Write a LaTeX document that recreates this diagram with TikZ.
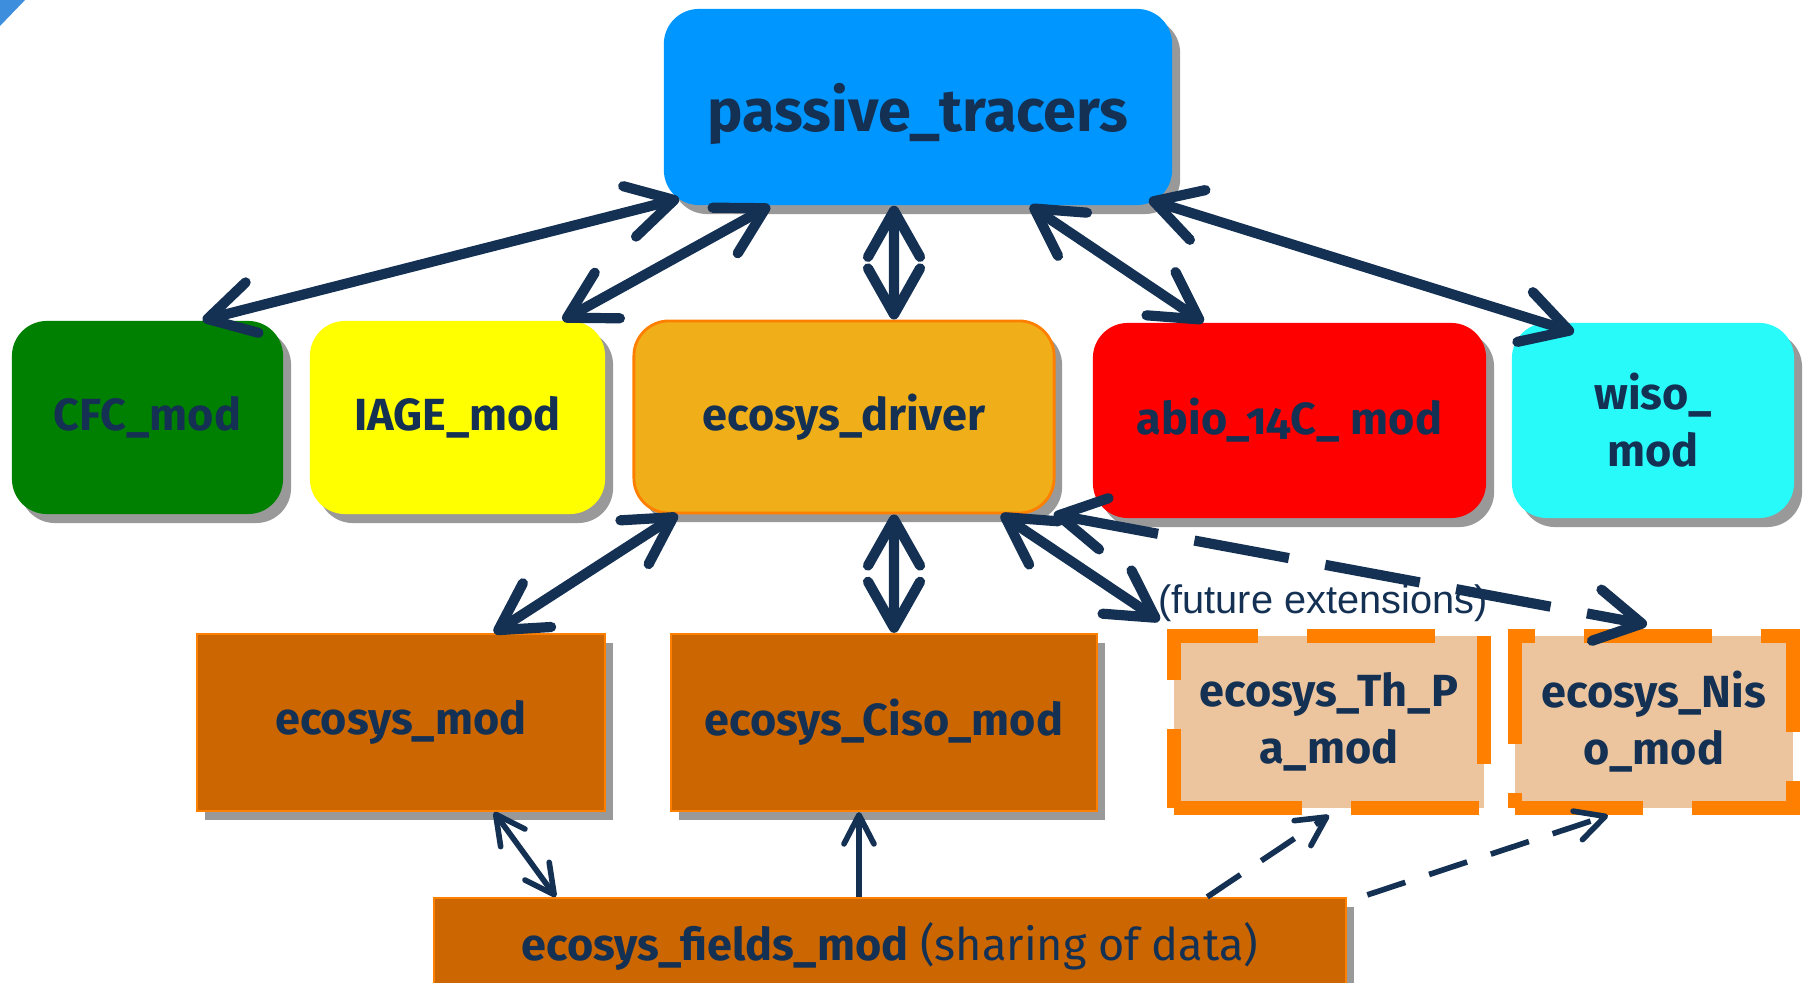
\documentclass[tikz,border=0pt]{standalone}
\usepackage{fontspec}
\setmainfont{Fira Sans}[Numbers=OldStyle]
\newfontfamily\notefont{Liberation Sans}
\usetikzlibrary{arrows.meta, shadows}

\definecolor{navy}{RGB}{20,49,84}
\definecolor{tracerblue}{RGB}{0,150,255}
\definecolor{cfcgreen}{RGB}{0,128,0}
\definecolor{iageyellow}{RGB}{255,255,0}
\definecolor{drivergold}{RGB}{240,174,25}
\definecolor{abiored}{RGB}{255,0,0}
\definecolor{wisocyan}{RGB}{40,250,250}
\definecolor{ecobrown}{RGB}{204,102,0}
\definecolor{edgeorange}{RGB}{255,128,0}
\definecolor{futurepeach}{RGB}{236,197,158}
\definecolor{cornerblue}{RGB}{62,142,222}

\begin{document}
\begin{tikzpicture}[
    x=0.01cm, y=-0.01cm,
    module/.style={rectangle, rounded corners=3.5mm, inner sep=0pt, text=navy, align=center,
        font=\bfseries\fontsize{12.8}{16.2}\selectfont,
        drop shadow={shadow xshift=0.8mm, shadow yshift=-0.9mm, fill=black, opacity=0.4}},
    ecobox/.style={rectangle, draw=edgeorange, line width=0.6pt, fill=ecobrown, inner sep=0pt, text=navy, align=center,
        font=\bfseries\fontsize{12.8}{16.2}\selectfont,
        drop shadow={shadow xshift=0.8mm, shadow yshift=-0.9mm, fill=black, opacity=0.4}},
    future/.style={rectangle, draw=edgeorange, fill=futurepeach, line width=4.2pt, dash pattern=on 12.8mm off 4.9mm,
        inner sep=0pt, text=navy, align=center, font=\bfseries\fontsize{12.8}{16.2}\selectfont},
    link/.style={<->, >={Straight Barb[round, length=4.6mm, width=5.2mm]}, line width=2.9pt, navy},
    feed/.style={>={Straight Barb[round, length=2.9mm, width=3mm]}, line width=1.6pt, navy},
    note/.style={font=\notefont\fontsize{11.3}{13}\selectfont, text=navy, inner sep=0pt}
]

\useasboundingbox (0,0) rectangle (1808,983);
\fill[cornerblue] (0,0) -- (25,0) -- (0,26) -- cycle;

% top
\node[module, fill=tracerblue, minimum width=5.08cm, minimum height=1.96cm, text depth=0pt, font=\bfseries\fontsize{16.9}{20}\selectfont] (passive) at (918,107) {passive\_tracers};

% tracer modules
\node[module, fill=cfcgreen, minimum width=2.71cm, minimum height=1.93cm] (cfc) at (147.5,417.5) {CFC\_mod};
\node[module, fill=iageyellow, minimum width=2.95cm, minimum height=1.93cm] (iage) at (457.5,417.5) {IAGE\_mod};
\node[module, fill=drivergold, draw=edgeorange, line width=0.8pt, minimum width=4.2cm, minimum height=1.92cm] (driver) at (844,417) {ecosys\_driver};
\node[module, fill=abiored, minimum width=3.93cm, minimum height=1.95cm] (abio) at (1289.5,420.5) {abio\_14C\_ mod};
\node[module, fill=wisocyan, minimum width=2.82cm, minimum height=1.95cm] (wiso) at (1653,420.5) {wiso\_\\mod};

% ecosys modules
\node[ecobox, minimum width=4.08cm, minimum height=1.77cm] (ecomod) at (401,722.5) {ecosys\_mod};
\node[ecobox, minimum width=4.26cm, minimum height=1.77cm] (ciso) at (884,722.5) {ecosys\_Ciso\_mod};
\node[future, minimum width=3.10cm, minimum height=1.72cm] (thpa) at (1329,722) {ecosys\_Th\_P\\a\_mod};
\node[future, minimum width=2.78cm, minimum height=1.72cm] (niso) at (1654,722) {ecosys\_Nis\\o\_mod};
\node[note] (futurenote) at (1323,603) {(future extensions)};

\node[ecobox, minimum width=9.12cm, minimum height=0.96cm, font=\fontsize{12.8}{16}\selectfont] (fields) at (890,946) {\textbf{ecosys\_fields\_mod} (sharing of data)};

% connectors
\draw[link] ([xshift=1.6mm,yshift=0.7mm]passive.south west) -- ([xshift=5.5mm]cfc.north);
\draw[link] ([xshift=-14.8mm]passive.south) -- ([xshift=10.5mm]iage.north);
\draw[link] ([xshift=-2.4mm]passive.south) -- ([xshift=5mm]driver.north);
\draw[link] ([xshift=11.2mm]passive.south) -- ([xshift=-8.6mm]abio.north);
\draw[link] ([xshift=-2.4mm,yshift=0.6mm]passive.south east) -- ([xshift=-7.9mm,yshift=-1mm]wiso.north);

\draw[link] ([xshift=4.5mm]driver.south west) -- ([xshift=9.3mm]ecomod.north);
\draw[link] ([xshift=5mm]driver.south) -- ([xshift=1mm]ciso.north);
\draw[link] ([xshift=15.7mm]driver.south) -- ([xshift=-0.7mm,yshift=0.8mm]thpa.north west);
\draw[link, dash pattern=on 9.6mm off 3.7mm] ([xshift=-0.2mm]driver.south east) -- ([xshift=-0.7mm,yshift=0.4mm]niso.north);

\draw[feed, <->] ([xshift=9.3mm]ecomod.south) -- ([xshift=-33.4mm]fields.north);
\draw[feed, ->] ([xshift=-3.1mm]fields.north) -- ([xshift=-2.5mm]ciso.south);
\draw[feed, ->, dash pattern=on 4mm off 2.5mm] ([xshift=-14mm]fields.north east) -- (thpa.south);
\draw[feed, ->, dash pattern=on 4mm off 2.5mm] ([xshift=2mm,yshift=0.2mm]fields.north east) -- ([xshift=-4.6mm]niso.south);

\end{tikzpicture}
\end{document}
